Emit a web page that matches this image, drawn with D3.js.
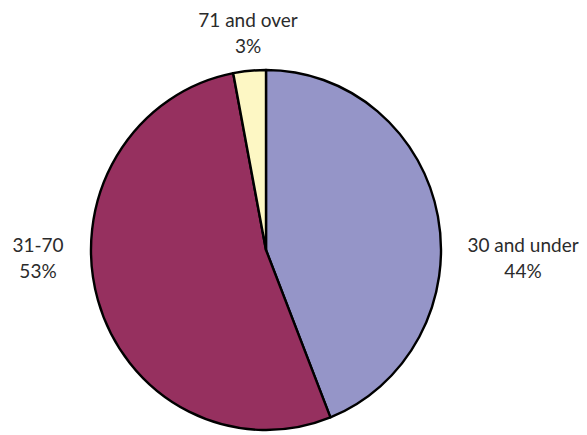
<!DOCTYPE html>
<html>
<head>
<meta charset="utf-8">
<script src="https://cdn.jsdelivr.net/npm/d3@7"></script>
<style>
  html, body { margin: 0; padding: 0; background: #fff; }
  svg text { font-family: Lato, "Open Sans", "DejaVu Sans", sans-serif; fill: #2b2b2b; }
</style>
</head>
<body>
<svg id="chart" width="587" height="435"></svg>
<script>
// Age groups and their share of the total (%)
const categories = ["30 and under", "31-70", "71 and over"];
const shares = [44, 53, 3];
const colors = ["#9595c8", "#96305f", "#fdf7c4"];

const W = 587, H = 435;
const cx = 266, cy = 250, rx = 175, ry = 180;

const svg = d3.select("#chart");

const pie = d3.pie().sort(null).value(d => d.value);
const arcs = pie(categories.map((c, i) => ({ name: c, value: shares[i], color: colors[i] })));

const arc = d3.arc().innerRadius(0).outerRadius(rx);

const g = svg.append("g")
  .attr("transform", `translate(${cx},${cy}) scale(1,${ry / rx})`);

g.selectAll("path")
  .data(arcs)
  .join("path")
  .attr("d", arc)
  .attr("fill", d => d.data.color)
  .attr("stroke", "#000")
  .attr("stroke-width", 2.4)
  .attr("vector-effect", "non-scaling-stroke")
  .attr("stroke-linejoin", "round");

// Label positions for each slice (two lines: name, percentage)
const labelPos = [
  { x: 523, y: 252 },
  { x: 38, y: 252 },
  { x: 248, y: 27 }
];

const labels = svg.selectAll("text.lbl")
  .data(arcs)
  .join("text")
  .attr("class", "lbl")
  .attr("text-anchor", "middle")
  .attr("font-size", 19);

labels.append("tspan")
  .attr("x", (d, i) => labelPos[i].x)
  .attr("y", (d, i) => labelPos[i].y)
  .text(d => d.data.name);

labels.append("tspan")
  .attr("x", (d, i) => labelPos[i].x)
  .attr("y", (d, i) => labelPos[i].y + 26)
  .text(d => d.data.value + "%");
</script>
</body>
</html>
